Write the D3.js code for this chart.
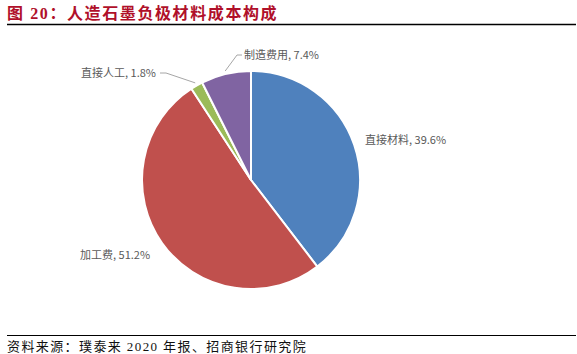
<!DOCTYPE html>
<html>
<head>
<meta charset="utf-8">
<script src="https://cdn.jsdelivr.net/npm/d3@7"></script>
<style>
  body { margin: 0; background: #fff; }
</style>
</head>
<body>
<div id="chart"></div>
<script>
    var categories = ["直接材料", "加工费", "直接人工", "制造费用"];
    var values = [39.6, 51.2, 1.8, 7.4];
    var colors = ["#4F81BD", "#C0504D", "#9BBB59", "#8064A2"];

    var W = 577, H = 354;
    var cx = 251, cy = 180, r = 109;

    var svg = d3.select("#chart").append("svg")
        .attr("width", W).attr("height", H);

    // title + rules
    svg.append("text")
        .attr("x", 7).attr("y", 19)
        .attr("fill", "#B0102A")
        .style("font-family", "'Liberation Serif', 'Noto Sans CJK SC', serif")
        .style("font-weight", "bold")
        .style("font-size", "16px")
        .style("letter-spacing", "1.6px")
        .text("图 20：人造石墨负极材料成本构成");
    svg.append("line").attr("x1", 7).attr("x2", 576).attr("y1", 24.5).attr("y2", 24.5)
        .attr("stroke", "#000").attr("stroke-width", 1.5);
    svg.append("line").attr("x1", 7).attr("x2", 576).attr("y1", 335.5).attr("y2", 335.5)
        .attr("stroke", "#000").attr("stroke-width", 1);
    svg.append("text")
        .attr("x", 7).attr("y", 351)
        .attr("fill", "#111")
        .style("font-family", "'Liberation Serif', 'Noto Sans CJK SC', serif")
        .style("font-size", "13px")
        .style("letter-spacing", "1.4px")
        .text("资料来源：璞泰来 2020 年报、招商银行研究院");

    var pie = d3.pie().sort(null).value(function(d) { return d; });
    var arc = d3.arc().innerRadius(0).outerRadius(r);
    var arcs = pie(values);

    var g = svg.append("g").attr("transform", "translate(" + cx + "," + cy + ")");
    g.selectAll("path").data(arcs).enter().append("path")
        .attr("d", arc)
        .attr("fill", function(d, i) { return colors[i]; })
        .attr("stroke", "#fff")
        .attr("stroke-width", 2);

    // labels
    var labelPos = [
        { x: 365, y: 144, anchor: "start" },
        { x: 80, y: 259, anchor: "start" },
        { x: 81, y: 77, anchor: "start" },
        { x: 244, y: 59, anchor: "start" }
    ];
    svg.selectAll("text.lbl").data(arcs).enter().append("text")
        .attr("class", "lbl")
        .attr("x", function(d, i) { return labelPos[i].x; })
        .attr("y", function(d, i) { return labelPos[i].y; })
        .attr("fill", "#595959")
        .style("font-family", "'Noto Sans CJK SC', sans-serif")
        .style("font-size", "11px")
        .text(function(d, i) { return categories[i] + ", " + d3.format(".1f")(values[i]) + "%"; });

    // leader lines for small slices
    var outer = d3.arc().innerRadius(r + 3).outerRadius(r + 3);
    var c2 = outer.centroid(arcs[2]);
    var c3 = outer.centroid(arcs[3]);
    svg.append("polyline")
        .attr("points", [[160, 73], [166, 73], [cx + c2[0], cy + c2[1]]].join(" "))
        .attr("fill", "none").attr("stroke", "#A6A6A6").attr("stroke-width", 1);
    svg.append("polyline")
        .attr("points", [[cx + c3[0], cy + c3[1]], [237, 55], [242, 55]].join(" "))
        .attr("fill", "none").attr("stroke", "#A6A6A6").attr("stroke-width", 1);
</script>
</body>
</html>
